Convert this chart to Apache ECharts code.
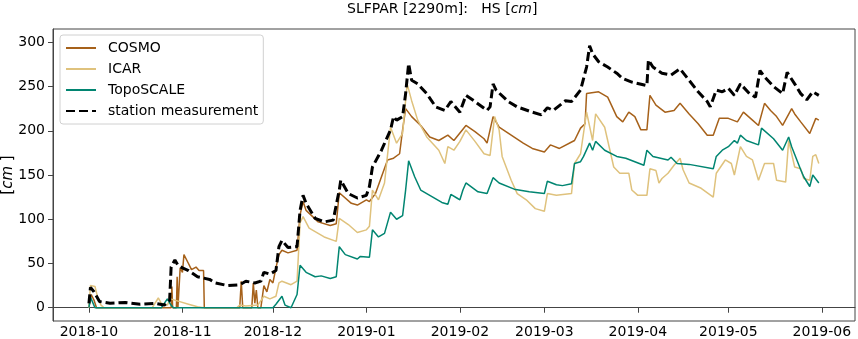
<!DOCTYPE html>
<html>
<head>
<meta charset="utf-8">
<script src="https://cdn.jsdelivr.net/npm/echarts@6/dist/echarts.min.js"></script>
<style>
  html, body { margin: 0; padding: 0; background: #fff; }
  #chart { width: 858px; height: 339px; }
</style>
</head>
<body>
<div id="chart"></div>
<script>
// tick labels
const hsTicks = [0, 50, 100, 150, 200, 250, 300];

// snow height [cm]
const cosmo = [
  ['2018-10-01', 0], ['2018-10-01 18:00', 15], ['2018-10-02 18:00', 8], ['2018-10-03 12:00', 0],
  ['2018-10-28 06:00', 0], ['2018-10-28 12:00', 24], ['2018-10-28 18:00', 0],
  ['2018-10-30', 0], ['2018-10-30 06:00', 35], ['2018-10-30 12:00', 0],
  ['2018-10-31', 0], ['2018-10-31 06:00', 45], ['2018-11-01', 40], ['2018-11-01 12:00', 60],
  ['2018-11-03', 50], ['2018-11-04', 43], ['2018-11-05 12:00', 46], ['2018-11-06 12:00', 42],
  ['2018-11-08', 42], ['2018-11-08 06:00', 0],
  ['2018-11-20', 0], ['2018-11-20 12:00', 30], ['2018-11-21', 0],
  ['2018-11-24', 0], ['2018-11-24 12:00', 28], ['2018-11-25', 5], ['2018-11-25 12:00', 20], ['2018-11-26', 0],
  ['2018-11-27', 0], ['2018-11-28', 25], ['2018-11-29', 18], ['2018-11-30', 32], ['2018-12-01', 28],
  ['2018-12-02', 45], ['2018-12-03', 60], ['2018-12-04', 65], ['2018-12-06', 62], ['2018-12-09', 65],
  ['2018-12-10', 105], ['2018-12-11', 120], ['2018-12-12', 110], ['2018-12-16', 97], ['2018-12-20', 93],
  ['2018-12-22', 95], ['2018-12-23', 130], ['2018-12-27', 118], ['2018-12-29', 116], ['2019-01-01', 122],
  ['2019-01-02', 120], ['2019-01-04', 129], ['2019-01-06', 148], ['2019-01-08', 167], ['2019-01-10', 169],
  ['2019-01-12', 174], ['2019-01-13', 201], ['2019-01-14', 225], ['2019-01-16', 216], ['2019-01-19', 206],
  ['2019-01-22', 193], ['2019-01-25', 189], ['2019-01-28', 195], ['2019-01-30', 189], ['2019-02-03', 206],
  ['2019-02-06', 199], ['2019-02-09', 191], ['2019-02-10', 186], ['2019-02-12', 216], ['2019-02-14', 204],
  ['2019-02-18', 195], ['2019-02-22', 186], ['2019-02-25', 180], ['2019-03-01', 176], ['2019-03-03', 184],
  ['2019-03-06', 180], ['2019-03-11', 189], ['2019-03-13', 203], ['2019-03-14 12:00', 208], ['2019-03-15', 242],
  ['2019-03-19', 244], ['2019-03-22', 238], ['2019-03-25', 216], ['2019-03-27', 210], ['2019-03-29', 221],
  ['2019-03-31', 216], ['2019-04-02', 201], ['2019-04-04', 201], ['2019-04-05', 240], ['2019-04-07', 229],
  ['2019-04-10', 221], ['2019-04-13', 223], ['2019-04-15', 231], ['2019-04-18', 219], ['2019-04-21', 208],
  ['2019-04-24', 195], ['2019-04-26', 195], ['2019-04-28', 214], ['2019-05-01', 214], ['2019-05-04', 210],
  ['2019-05-06', 221], ['2019-05-09', 212], ['2019-05-11', 206], ['2019-05-13', 231], ['2019-05-15', 223],
  ['2019-05-17', 216], ['2019-05-19', 206], ['2019-05-22', 225], ['2019-05-23', 219], ['2019-05-25', 210],
  ['2019-05-28', 197], ['2019-05-30', 214], ['2019-05-31', 212]
];

const icar = [
  ['2018-10-01', 0], ['2018-10-01 12:00', 25], ['2018-10-03', 24], ['2018-10-04', 10], ['2018-10-05', 3],
  ['2018-10-06', 0], ['2018-10-22', 0], ['2018-10-24', 11], ['2018-10-25', 5], ['2018-10-27', 3],
  ['2018-10-28', 10], ['2018-10-30', 8], ['2018-11-03', 4], ['2018-11-06', 1], ['2018-11-08', 0],
  ['2018-11-19', 0], ['2018-11-20', 3], ['2018-11-22', 2], ['2018-11-26', 3], ['2018-11-28', 13],
  ['2018-11-30', 10], ['2018-12-02', 13], ['2018-12-03', 28], ['2018-12-04', 30], ['2018-12-07', 26],
  ['2018-12-09', 30], ['2018-12-10', 96], ['2018-12-11', 103], ['2018-12-13', 90], ['2018-12-18', 80],
  ['2018-12-22', 75], ['2018-12-23', 101], ['2018-12-26', 94], ['2018-12-29', 85], ['2019-01-01', 88],
  ['2019-01-02', 92], ['2019-01-03', 133], ['2019-01-05', 122], ['2019-01-07', 141], ['2019-01-09', 204],
  ['2019-01-11', 186], ['2019-01-13', 197], ['2019-01-14 12:00', 253], ['2019-01-16', 234], ['2019-01-18', 212],
  ['2019-01-21', 193], ['2019-01-25', 178], ['2019-01-27', 163], ['2019-01-28', 182], ['2019-01-30', 178],
  ['2019-02-01', 188], ['2019-02-03', 201], ['2019-02-06', 188], ['2019-02-09', 174], ['2019-02-11', 172],
  ['2019-02-12 12:00', 216], ['2019-02-14', 201], ['2019-02-15', 171], ['2019-02-18', 144], ['2019-02-20', 129],
  ['2019-02-23', 122], ['2019-02-26', 112], ['2019-03-01', 109], ['2019-03-02', 129], ['2019-03-05', 127],
  ['2019-03-10', 129], ['2019-03-11', 163], ['2019-03-13', 174], ['2019-03-15', 221], ['2019-03-17', 189],
  ['2019-03-18', 219], ['2019-03-21', 204], ['2019-03-22', 189], ['2019-03-24', 159], ['2019-03-26', 152],
  ['2019-03-29', 152], ['2019-03-30', 133], ['2019-04-01', 127], ['2019-04-04', 127], ['2019-04-05', 157],
  ['2019-04-07', 155], ['2019-04-08', 141], ['2019-04-09', 146], ['2019-04-11', 152], ['2019-04-13', 161],
  ['2019-04-15', 169], ['2019-04-16', 156], ['2019-04-18', 141], ['2019-04-22', 135], ['2019-04-26', 125],
  ['2019-04-27', 152], ['2019-04-30', 167], ['2019-05-02', 163], ['2019-05-03', 150], ['2019-05-05', 182],
  ['2019-05-07', 171], ['2019-05-09', 167], ['2019-05-11', 144], ['2019-05-13', 163], ['2019-05-16', 163],
  ['2019-05-17', 144], ['2019-05-20', 142], ['2019-05-21', 189], ['2019-05-23', 159], ['2019-05-25', 157],
  ['2019-05-26', 146], ['2019-05-28', 144], ['2019-05-29', 171], ['2019-05-30', 173], ['2019-05-31', 163]
];

const toposcale = [
  ['2018-10-01', 0], ['2018-10-01 12:00', 12], ['2018-10-02', 8], ['2018-10-03', 0],
  ['2018-10-25', 0], ['2018-10-27', 10], ['2018-10-28', 4], ['2018-10-29', 0],
  ['2018-12-01', 0], ['2018-12-02', 4], ['2018-12-04', 13], ['2018-12-05', 3], ['2018-12-07', 0],
  ['2018-12-09', 15], ['2018-12-10', 48], ['2018-12-12', 40], ['2018-12-15', 35], ['2018-12-17', 36],
  ['2018-12-20', 33], ['2018-12-22', 35], ['2018-12-23', 69], ['2018-12-25', 60], ['2018-12-29', 55],
  ['2018-12-30', 58], ['2019-01-02', 57], ['2019-01-03', 88], ['2019-01-05', 80], ['2019-01-07', 84],
  ['2019-01-09', 108], ['2019-01-11', 100], ['2019-01-13', 104], ['2019-01-14', 133], ['2019-01-15', 166],
  ['2019-01-17', 148], ['2019-01-19', 133], ['2019-01-23', 125], ['2019-01-26', 119], ['2019-01-28', 117],
  ['2019-01-29', 128], ['2019-01-31', 124], ['2019-02-01', 122], ['2019-02-02', 133], ['2019-02-03', 141],
  ['2019-02-07', 131], ['2019-02-10', 129], ['2019-02-12', 147], ['2019-02-14', 141], ['2019-02-19', 134],
  ['2019-02-24', 131], ['2019-03-01', 129], ['2019-03-02', 143], ['2019-03-05', 139], ['2019-03-07', 138],
  ['2019-03-10', 140], ['2019-03-11', 163], ['2019-03-13', 165], ['2019-03-14', 171], ['2019-03-16', 186],
  ['2019-03-17', 178], ['2019-03-18', 188], ['2019-03-21', 178], ['2019-03-25', 171], ['2019-03-28', 169],
  ['2019-04-03', 161], ['2019-04-04', 178], ['2019-04-06', 171], ['2019-04-11', 167], ['2019-04-12', 170],
  ['2019-04-14', 163], ['2019-04-18', 162], ['2019-04-26', 157], ['2019-04-27', 171], ['2019-04-29', 178],
  ['2019-05-01', 182], ['2019-05-03', 189], ['2019-05-04', 186], ['2019-05-05', 195], ['2019-05-07', 189],
  ['2019-05-11', 184], ['2019-05-12', 203], ['2019-05-16', 191], ['2019-05-19', 178], ['2019-05-21', 193],
  ['2019-05-22', 182], ['2019-05-25', 156], ['2019-05-26', 148], ['2019-05-28', 137], ['2019-05-29', 150],
  ['2019-05-31', 141]
];

const station = [
  ['2018-10-01', 5], ['2018-10-01 12:00', 23], ['2018-10-02 16:00', 18], ['2018-10-04 12:00', 7],
  ['2018-10-08', 5], ['2018-10-13', 6], ['2018-10-18', 4], ['2018-10-23', 5], ['2018-10-26', 3],
  ['2018-10-27 18:00', 8], ['2018-10-28 06:00', 46], ['2018-10-29 12:00', 54], ['2018-10-30 12:00', 48],
  ['2018-11-01', 45], ['2018-11-03', 42], ['2018-11-06', 35], ['2018-11-10', 32], ['2018-11-12', 28],
  ['2018-11-16', 25], ['2018-11-20', 26], ['2018-11-22', 30], ['2018-11-25', 28], ['2018-11-27', 30],
  ['2018-11-28', 40], ['2018-11-30', 38], ['2018-12-02', 42], ['2018-12-03', 69], ['2018-12-04', 76],
  ['2018-12-06', 68], ['2018-12-09', 69], ['2018-12-10', 110], ['2018-12-11', 127], ['2018-12-12', 118],
  ['2018-12-15', 101], ['2018-12-18', 97], ['2018-12-21', 99], ['2018-12-23', 133], ['2018-12-23 12:00', 144],
  ['2018-12-26', 129], ['2018-12-29', 124], ['2019-01-01', 127], ['2019-01-02', 137], ['2019-01-03', 159],
  ['2019-01-06', 178], ['2019-01-09', 201], ['2019-01-10', 216], ['2019-01-11', 212], ['2019-01-13', 216],
  ['2019-01-14', 242], ['2019-01-15', 276], ['2019-01-16', 257], ['2019-01-18', 253], ['2019-01-21', 242],
  ['2019-01-24', 227], ['2019-01-27', 223], ['2019-01-29', 233], ['2019-02-01', 221], ['2019-02-03', 240],
  ['2019-02-06', 233], ['2019-02-10', 223], ['2019-02-11', 227], ['2019-02-12', 253], ['2019-02-13', 246],
  ['2019-02-17', 233], ['2019-02-20', 227], ['2019-02-25', 221], ['2019-02-28', 218], ['2019-03-02', 226],
  ['2019-03-04', 223], ['2019-03-08', 234], ['2019-03-10', 233], ['2019-03-13', 246], ['2019-03-15', 272],
  ['2019-03-16', 296], ['2019-03-17', 287], ['2019-03-19', 278], ['2019-03-22', 272], ['2019-03-25', 265],
  ['2019-03-27', 259], ['2019-03-30', 255], ['2019-04-04', 251], ['2019-04-04 12:00', 280], ['2019-04-06', 272],
  ['2019-04-09', 265], ['2019-04-12', 263], ['2019-04-15', 270], ['2019-04-18', 257], ['2019-04-21', 244],
  ['2019-04-24', 233], ['2019-04-25', 227], ['2019-04-27', 246], ['2019-04-29', 244], ['2019-05-01', 248],
  ['2019-05-03', 240], ['2019-05-05', 253], ['2019-05-08', 242], ['2019-05-10', 238], ['2019-05-11 12:00', 268],
  ['2019-05-13', 261], ['2019-05-16', 250], ['2019-05-19', 242], ['2019-05-20 12:00', 266], ['2019-05-23', 253],
  ['2019-05-25', 242], ['2019-05-27', 235], ['2019-05-29', 244], ['2019-05-31', 240]
];

const font = 'DejaVu Sans';
const axisColor = '#444';

function lineSeries(name, data, color, width, type) {
  return {
    name: name, type: 'line', data: data,
    symbol: 'none', showSymbol: false,
    lineStyle: { color: color, width: width, type: type || 'solid' },
    itemStyle: { color: color }
  };
}

const chart = echarts.init(document.getElementById('chart'));
chart.setOption({
  animation: false,
  textStyle: { fontFamily: font },
  title: {
    text: '{a|SLFPAR [2290m]:   HS [}{i|cm}{a|]}',
    left: 347,
    top: 2,
    padding: 0,
    textStyle: {
      fontWeight: 'normal',
      rich: {
        a: { fontFamily: font, fontSize: 14, fontWeight: 'normal', color: '#000' },
        i: { fontFamily: font, fontSize: 14, fontWeight: 'normal', fontStyle: 'italic', color: '#000' }
      }
    }
  },
  legend: {
    orient: 'vertical',
    left: 60,
    top: 35,
    padding: [5, 5, 5, 5],
    itemWidth: 30,
    itemHeight: 16,
    itemGap: 5,
    backgroundColor: '#fff',
    borderColor: '#d0d0d0',
    borderWidth: 1,
    borderRadius: 3,
    itemStyle: { opacity: 0 },
    textStyle: { fontFamily: font, fontSize: 14, color: '#000', padding: [0, 0, 0, 7], lineHeight: 16 },
    data: ['COSMO', 'ICAR', 'TopoSCALE', 'station measurement']
  },
  grid: {
    left: 53, right: 3, top: 29, bottom: 18,
    outerBoundsMode: 'none',
    containLabel: false,
    show: true, borderColor: axisColor, borderWidth: 1
  },
  xAxis: {
    type: 'time',
    min: new Date(2018, 8, 19, 2).getTime(),
    max: new Date(2019, 5, 12).getTime(),
    splitNumber: 9,
    axisLine: { lineStyle: { color: axisColor } },
    axisTick: { length: 5, lineStyle: { color: axisColor } },
    axisLabel: {
      margin: 4,
      fontFamily: font,
      fontSize: 14,
      color: '#000',
      formatter: function (v) {
        const d = new Date(v);
        return d.getFullYear() + '-' + String(d.getMonth() + 1).padStart(2, '0');
      }
    },
    minorTick: { show: false },
    splitLine: { show: false }
  },
  yAxis: {
    type: 'value',
    min: -15,
    max: 315,
    name: '[{i|cm} ]',
    nameLocation: 'middle',
    nameRotate: 90,
    nameGap: 37,
    nameMoveOverlap: false,
    nameTextStyle: {
      fontFamily: font, fontSize: 15, color: '#000',
      rich: { i: { fontFamily: font, fontSize: 15, fontStyle: 'italic', color: '#000' } }
    },
    axisLine: { show: true, lineStyle: { color: axisColor } },
    axisTick: { show: true, customValues: hsTicks, length: 5, lineStyle: { color: axisColor } },
    axisLabel: { customValues: hsTicks, margin: 8, fontFamily: font, fontSize: 14, color: '#000' },
    splitLine: { show: false }
  },
  series: [
    lineSeries('COSMO', cosmo, '#a6611a', 1.5),
    lineSeries('ICAR', icar, '#dfc27d', 1.5),
    lineSeries('TopoSCALE', toposcale, '#018571', 1.5),
    lineSeries('station measurement', station, '#000', 3, [9, 4])
  ]
});
window.addEventListener('resize', function () { chart.resize(); });
</script>
</body>
</html>
